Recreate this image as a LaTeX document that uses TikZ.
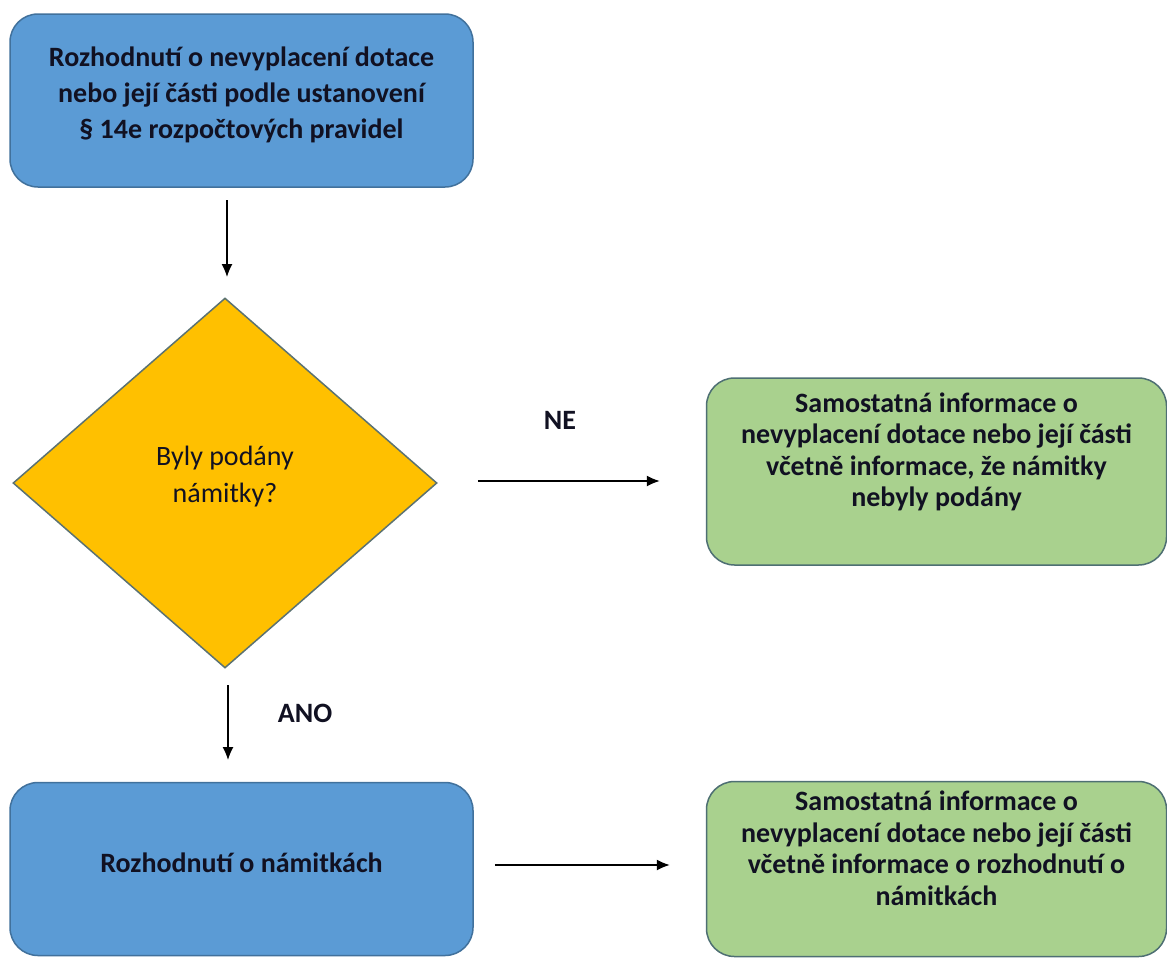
\documentclass[tikz,border=0pt]{standalone}
\usepackage{fontspec}
\setmainfont{Carlito}
\usetikzlibrary{shapes.geometric,arrows.meta,calc}
\definecolor{bluefill}{HTML}{5B9BD5}
\definecolor{blueedge}{HTML}{41719C}
\definecolor{greenfill}{HTML}{A9D18E}
\definecolor{greenedge}{HTML}{4E6F73}
\definecolor{yellowfill}{HTML}{FFC000}
\definecolor{yellowedge}{HTML}{5B7272}
\definecolor{txt}{HTML}{111122}
\tikzset{
  bluebox/.style={draw=blueedge, line width=1.5pt, fill=bluefill, rounded corners=28pt,
    minimum width=463pt, minimum height=173pt, align=center, text=txt,
    font=\fontsize{28}{36}\selectfont\bfseries, inner sep=0pt},
  greenbox/.style={draw=greenedge, line width=1.5pt, fill=greenfill, rounded corners=28pt,
    minimum width=460pt, minimum height=187pt, align=center, text=txt,
    font=\fontsize{28}{31.5}\selectfont\bfseries, inner sep=0pt},
  decision/.style={diamond, draw=yellowedge, line width=1.5pt, fill=yellowfill,
    minimum width=424pt, minimum height=370pt, align=center, text=txt,
    font=\fontsize{28}{37}\selectfont, inner sep=0pt},
  conn/.style={line width=1.3pt, -{Latex[length=13pt,width=11pt]}},
  lbl/.style={font=\fontsize{28}{30}\selectfont\bfseries, text=txt}
}
\begin{document}
\begin{tikzpicture}[x=1pt,y=-1pt]
\useasboundingbox[fill=white] (0,0) rectangle (1167,959);
\node[bluebox] (top) at (241.5,100.5) {Rozhodnutí o nevyplacení dotace\\nebo její části podle ustanovení\\§ 14e rozpočtových pravidel\\[-20pt]\mbox{}};
\node[decision] (dia) at (225,483) {Byly podány\\námitky?\\[-19pt]\mbox{}};
\node[greenbox] (g1) at (936.5,471.5) {Samostatná informace o\\nevyplacení dotace nebo její části\\včetně informace, že námitky\\nebyly podány\\[12pt]\mbox{}};
\node[bluebox] (bot) at (241.5,869) {Rozhodnutí o námitkách\\[-24pt]\mbox{}};
\node[greenbox, minimum height=175pt] (g2) at (936.5,869) {Samostatná informace o\\nevyplacení dotace nebo její části\\včetně informace o rozhodnutí o\\námitkách\\[10pt]\mbox{}};
\coordinate (a1s) at (227,200);
\coordinate (a1e) at (227,277);
\draw[conn] (a1s) -- (a1e);
\draw[conn, shorten <=40pt, shorten >=46pt] ($(dia.east)+(0,-2)$) -- ($(dia.east -| g1.west)+(0,-2)$);
\coordinate (a3s) at (228,685);
\coordinate (a3e) at (228,760);
\draw[conn] (a3s) -- (a3e);
\draw[conn, shorten <=21pt, shorten >=36pt] ($(bot.east)+(0,-4)$) -- ($(bot.east -| g2.west)+(0,-4)$);
\node[lbl] (ne) at (560,420) {NE};
\node[lbl] (ano) at (305,713) {ANO};
\end{tikzpicture}
\end{document}
